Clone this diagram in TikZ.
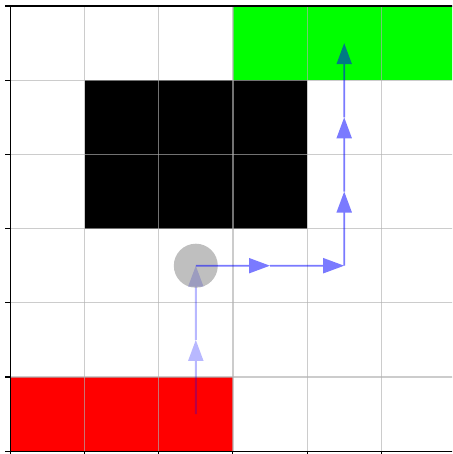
\documentclass[tikz,border=0pt]{standalone}
\usetikzlibrary{arrows.meta}
\definecolor{cgreen}{RGB}{0,255,0}
\definecolor{cred}{RGB}{255,0,0}
\definecolor{cgrid}{RGB}{176,176,176}
\definecolor{cblue}{RGB}{0,0,255}
\definecolor{cagent}{RGB}{128,128,128}
\tikzset{
  gridline/.style={draw=cgrid, draw opacity=0.65, line width=1.2pt},
  spine/.style={draw=black, line width=1.1pt},
  pathseg/.style={draw=cblue, fill=cblue, line width=1.9pt,
    -{Triangle[length=21pt,width=15pt]}},
  agent/.style={circle, fill=cagent, fill opacity=0.5, inner sep=0pt, minimum size=44pt},
}
\begin{document}
\begin{tikzpicture}[x=1pt,y=-1pt]
\useasboundingbox (0,0) rectangle (452,454);
\clip (0,0) rectangle (452,454);
\begin{scope}[shift={(10.3pt,-6pt)}, x=74.2pt, y=-74.2pt]
  % cells
  \fill[cgreen] (3,0) rectangle (6,1);
  \fill[black] (1,1) rectangle (4,3);
  \fill[cred] (0,5) rectangle (3,6);
  % grid
  \foreach \i in {1,...,5} {
    \draw[gridline] (\i,0) -- (\i,6);
    \draw[gridline] (0,\i) -- (6,\i);
  }
  % spines and ticks
  \draw[spine] (0,0) rectangle (6,6);
  \foreach \i in {0,...,6} {
    \draw[spine] (0,\i) -- ++(-5pt,0pt);
    \draw[spine] (\i,6) -- ++(0pt,-5pt);
  }
  % path coordinates
  \coordinate (p0) at (2.5,5.5);
  \coordinate (p1) at (2.5,4.5);
  \coordinate (p2) at (2.5,3.5);
  \coordinate (p3) at (3.5,3.5);
  \coordinate (p4) at (4.5,3.5);
  \coordinate (p5) at (4.5,2.5);
  \coordinate (p6) at (4.5,1.5);
  \coordinate (p7) at (4.5,0.5);
  % faint earlier moves
  \begin{scope}[transparency group, opacity=0.28]
    \draw[pathseg] (p0) -- (p1);
    \draw[pathseg] (p1) -- (p2);
  \end{scope}
  % agent
  \node[agent] (agent) at (p2) {};
  % later moves
  \begin{scope}[transparency group, opacity=0.52]
    \draw[pathseg] (p2) -- (p3);
    \draw[pathseg] (p3) -- (p4);
    \draw[pathseg] (p4) -- (p5);
    \draw[pathseg] (p5) -- (p6);
    \draw[pathseg] (p6) -- (p7);
  \end{scope}
\end{scope}
\end{tikzpicture}
\end{document}
